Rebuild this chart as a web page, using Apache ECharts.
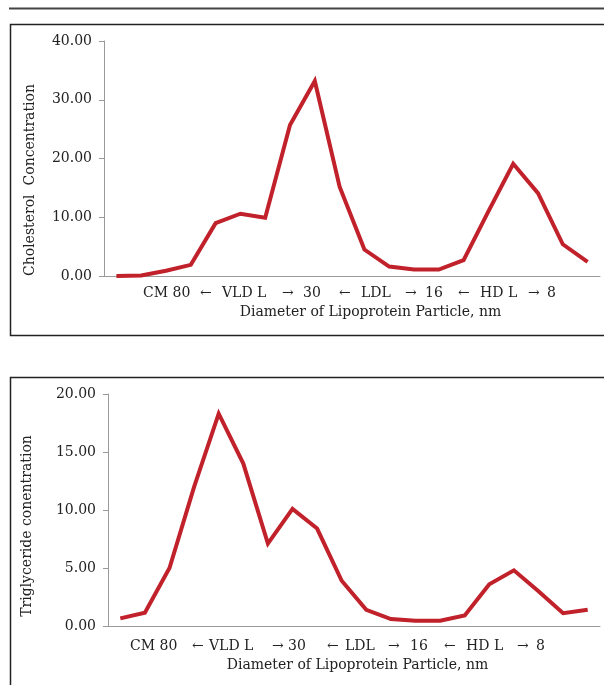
<!DOCTYPE html>
<html><head><meta charset="utf-8">
<script src="https://cdn.jsdelivr.net/npm/echarts@6/dist/echarts.min.js"></script>
<style>html,body{margin:0;padding:0;background:#fff}#c{width:604px;height:685px}</style>
</head><body><div id="c"></div>
<script>
// 20 size fractions, large (CM) to small (HDL)
var categories = ['1','2','3','4','5','6','7','8','9','10','11','12','13','14','15','16','17','18','19','20'];
var cholesterol = [0.0, 0.1, 0.9, 1.9, 9.0, 10.6, 9.9, 25.7, 33.2, 15.2, 4.5, 1.6, 1.1, 1.1, 2.7, 11.0, 19.1, 14.1, 5.4, 2.4];
var triglyceride = [0.66, 1.15, 5.0, 12.0, 18.3, 14.0, 7.1, 10.1, 8.4, 3.9, 1.4, 0.6, 0.45, 0.45, 0.9, 3.6, 4.8, 3.0, 1.1, 1.4];
var sizeLabels = ['CM 80', '←', 'VLD L', '→', '30', '←', 'LDL', '→', '16', '←', 'HD L', '→', '8'];
var xTitle = 'Diameter of Lipoprotein Particle, nm';
var yTitle1 = 'Cholesterol  Concentration';
var yTitle2 = 'Triglyceride conentration';

// layout (pixel positions of the size-label row parts)
var labelX1 = [143, 200, 222, 282, 303, 339, 361, 405, 425, 458, 480, 528, 547];
var labelX2 = [130, 192, 209, 272, 288, 327, 345, 388, 410, 444, 466, 517, 536];

var FONT = 'DejaVu Serif';
var RED = '#C1212A';
var chart = echarts.init(document.getElementById('c'), null, {renderer:'canvas'});

function rowTexts(xs, y){
  return sizeLabels.map(function(t,i){
    return {type:'text', x:xs[i], y:y, style:{text:t, font:'14px "'+FONT+'"', fill:'#222', textAlign:'left', textVerticalAlign:'middle'}};
  });
}
function yAxisCfg(idx, max, interval){
  return {type:'value', gridIndex:idx, min:0, max:max, interval:interval,
    axisLine:{show:true, lineStyle:{color:'#9a9a9a', width:1}},
    axisTick:{show:true, length:5, lineStyle:{color:'#9a9a9a'}},
    splitLine:{show:false},
    axisLabel:{margin:12, color:'#222', fontFamily:FONT, fontSize:14, formatter:function(v){return v.toFixed(2);}}};
}
function xAxisCfg(idx){
  return {type:'category', gridIndex:idx, data:categories, boundaryGap:true,
    axisLine:{show:true, lineStyle:{color:'#9a9a9a', width:1}},
    axisTick:{show:false}, axisLabel:{show:false}, splitLine:{show:false}};
}

var graphics = [
  {type:'line', shape:{x1:9, y1:8.5, x2:604, y2:8.5}, style:{stroke:'#444', lineWidth:2}},
  {type:'rect', shape:{x:10.5, y:24.5, width:620, height:311}, style:{fill:'none', stroke:'#222', lineWidth:1.5}},
  {type:'rect', shape:{x:10.5, y:377.5, width:620, height:340}, style:{fill:'none', stroke:'#222', lineWidth:1.5}},
  {type:'text', x:30, y:180, rotation:Math.PI/2, style:{text:yTitle1, font:'14px "'+FONT+'"', fill:'#222', textAlign:'center', textVerticalAlign:'middle'}},
  {type:'text', x:27, y:526, rotation:Math.PI/2, style:{text:yTitle2, font:'14px "'+FONT+'"', fill:'#222', textAlign:'center', textVerticalAlign:'middle'}},
  {type:'text', x:370.5, y:312, style:{text:xTitle, font:'14px "'+FONT+'"', fill:'#222', textAlign:'center', textVerticalAlign:'middle'}},
  {type:'text', x:357.5, y:665, style:{text:xTitle, font:'14px "'+FONT+'"', fill:'#222', textAlign:'center', textVerticalAlign:'middle'}}
].concat(rowTexts(labelX1, 293)).concat(rowTexts(labelX2, 646));

chart.setOption({
  animation:false,
  backgroundColor:'#fff',
  grid:[
    {left:104, right:4, top:41, bottom:409, containLabel:false},
    {left:108, right:4, top:394, bottom:59, containLabel:false}
  ],
  xAxis:[xAxisCfg(0), xAxisCfg(1)],
  yAxis:[yAxisCfg(0, 40, 10), yAxisCfg(1, 20, 5)],
  series:[
    {type:'line', xAxisIndex:0, yAxisIndex:0, data:cholesterol, symbol:'none', lineStyle:{color:RED, width:4, join:'miter'}},
    {type:'line', xAxisIndex:1, yAxisIndex:1, data:triglyceride, symbol:'none', lineStyle:{color:RED, width:4, join:'miter'}}
  ],
  graphic:graphics
});
</script></body></html>
